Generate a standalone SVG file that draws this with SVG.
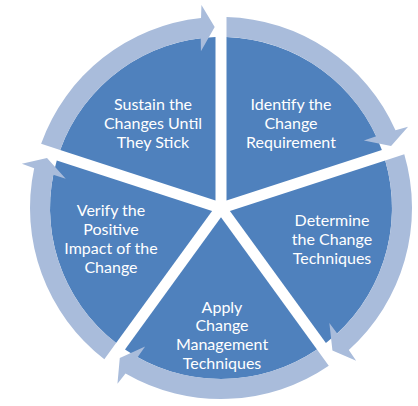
<svg xmlns="http://www.w3.org/2000/svg" width="418" height="406" viewBox="0 0 418 406">
  <defs>
    <path id="wedge" d="M226.5,200.43 L226.5,37.09 A171,171 0 0,1 381.85,149.95 Z"/>
    <path id="arrow" d="M226.5,17.08 A191,191 0 0,1 395.49,130.31 L408.08,126.66 L391.08,146.09 L363.85,140.48 L376.23,136.27 A171,171 0 0,0 226.5,37.09 Z"/>
  </defs>
  <style>
    .seg { fill: #4F81BD; }
    .ring { fill: #A9BCDB; }
    .lbl { font-family: Lato, "Open Sans", "Liberation Sans", sans-serif; font-size: 16px; fill: #FFFFFF; text-anchor: middle; }
  </style>
  <rect width="418" height="406" fill="#FFFFFF"/>
  <g id="node-identify">
    <use href="#wedge" class="seg"/>
    <text class="lbl" x="291" y="110"><tspan x="291" y="110">Identify the</tspan><tspan x="291" y="129">Change</tspan><tspan x="291" y="148">Requirement</tspan></text>
  </g>
  <g id="node-determine">
    <use href="#wedge" class="seg" transform="rotate(72 221 208)"/>
    <text class="lbl"><tspan x="332" y="226">Determine</tspan><tspan x="332" y="245">the Change</tspan><tspan x="332" y="264">Techniques</tspan></text>
  </g>
  <g id="node-apply">
    <use href="#wedge" class="seg" transform="rotate(144 221 208)"/>
    <text class="lbl"><tspan x="222" y="312.5">Apply</tspan><tspan x="222" y="331">Change</tspan><tspan x="222" y="350">Management</tspan><tspan x="222" y="369">Techniques</tspan></text>
  </g>
  <g id="node-verify">
    <use href="#wedge" class="seg" transform="rotate(216 221 208)"/>
    <text class="lbl"><tspan x="111" y="216">Verify the</tspan><tspan x="111" y="235">Positive</tspan><tspan x="111" y="254">Impact of the</tspan><tspan x="111" y="273">Change</tspan></text>
  </g>
  <g id="node-sustain">
    <use href="#wedge" class="seg" transform="rotate(288 221 208)"/>
    <text class="lbl"><tspan x="153" y="110">Sustain the</tspan><tspan x="153" y="129">Changes Until</tspan><tspan x="153" y="148">They Stick</tspan></text>
  </g>
  <g id="connectors">
    <use href="#arrow" class="ring"/>
    <use href="#arrow" class="ring" transform="rotate(72 221 208)"/>
    <use href="#arrow" class="ring" transform="rotate(144 221 208)"/>
    <use href="#arrow" class="ring" transform="rotate(216 221 208)"/>
    <use href="#arrow" class="ring" transform="rotate(288 221 208)"/>
  </g>
</svg>
